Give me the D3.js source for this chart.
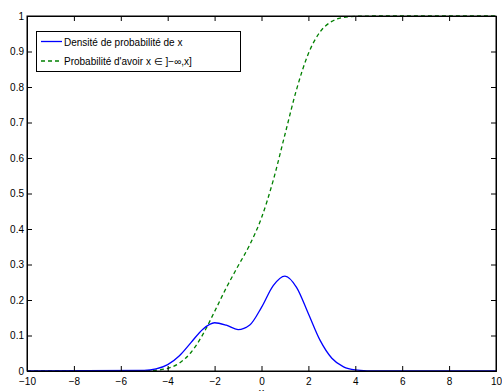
<!DOCTYPE html>
<html><head><meta charset="utf-8">
<script src="https://cdn.jsdelivr.net/npm/d3@7"></script>
<style>body{margin:0;background:#fff}svg{display:block}text{font-family:"Liberation Sans",Arial,sans-serif}</style>
</head><body>
<script>
const xValues   = [-10, -5, -4.5, -4, -3.5, -3, -2.5, -2, -1.5, -1, -0.5, 0, 0.5, 1, 1.5, 2, 2.5, 3, 3.5, 4, 4.5, 5, 5.5, 6, 10];
const density   = [0, 0.0015, 0.0058, 0.0180, 0.0432, 0.0807, 0.1179, 0.1359, 0.1290, 0.1167, 0.1295, 0.1793, 0.2406, 0.2674, 0.2350, 0.1614, 0.0863, 0.0360, 0.0117, 0.0030, 0.0006, 0.0001, 0, 0, 0];
const cumulative= [0, 0.00045, 0.0021, 0.0076, 0.0223, 0.0529, 0.1030, 0.1676, 0.2346, 0.2956, 0.3556, 0.4315, 0.5370, 0.6662, 0.7942, 0.8942, 0.9555, 0.9848, 0.9959, 0.9990, 0.9998, 1, 1, 1, 1];
const xTicks = [-10, -8, -6, -4, -2, 0, 2, 4, 6, 8, 10];
const yTicks = [0, 0.1, 0.2, 0.3, 0.4, 0.5, 0.6, 0.7, 0.8, 0.9, 1];
const legendLabels = ["Densité de probabilité de x", "Probabilité d'avoir x ∈  ]−∞,x]"];
const xLabel = "x";

const W = 502, H = 391;
const L = 27, R = 496, T = 16, B = 371;
const svg = d3.select("body").append("svg").attr("width", W).attr("height", H);
const x = d3.scaleLinear().domain([-10, 10]).range([L, R]);
const y = d3.scaleLinear().domain([0, 1]).range([B, T]);

const fmt = v => (v < 0 ? "\u2212" + Math.abs(v) : String(v));

svg.append("rect").attr("x", L).attr("y", T).attr("width", R - L).attr("height", B - T).attr("fill", "#fff");

const pts = (arr) => xValues.map((xv, i) => [xv, arr[i]]);
const line = d3.line().x(d => x(d[0])).y(d => y(d[1])).curve(d3.curveMonotoneX);
svg.append("path").attr("d", line(pts(cumulative))).attr("fill", "none")
  .attr("stroke", "#008000").attr("stroke-width", 1.3).attr("stroke-dasharray", "4,3");
svg.append("path").attr("d", line(pts(density))).attr("fill", "none")
  .attr("stroke", "#0000ff").attr("stroke-width", 1.3);

const tl = 5;
const gb = svg.append("g").attr("transform", `translate(0,${B})`)
  .call(d3.axisBottom(x).tickValues(xTicks).tickSize(-tl).tickPadding(8).tickFormat(fmt));
const gt = svg.append("g").attr("transform", `translate(0,${T})`)
  .call(d3.axisTop(x).tickValues(xTicks).tickSize(-tl).tickFormat(""));
const gl = svg.append("g").attr("transform", `translate(${L},0)`)
  .call(d3.axisLeft(y).tickValues(yTicks).tickSize(-tl).tickPadding(3).tickFormat(d => String(+d.toFixed(1))));
const gr = svg.append("g").attr("transform", `translate(${R},0)`)
  .call(d3.axisRight(y).tickValues(yTicks).tickSize(-tl).tickFormat(""));
[gb, gt, gl, gr].forEach(g => {
  g.select(".domain").attr("stroke", "#000").attr("stroke-width", 1);
  g.selectAll(".tick line").attr("stroke", "#000");
  g.selectAll("text").attr("font-size", 10).attr("fill", "#000").style("font-family", "Liberation Sans, Arial, sans-serif");
});
gb.selectAll(".tick text").attr("dy", "0.6em");
svg.append("rect").attr("x", L).attr("y", T).attr("width", R - L).attr("height", B - T)
  .attr("fill", "none").attr("stroke", "#000").attr("stroke-width", 1);

svg.append("text").attr("x", (L + R) / 2).attr("y", 396).attr("text-anchor", "middle")
  .attr("font-size", 11).text(xLabel);

const lg = svg.append("g");
lg.append("rect").attr("x", 36.5).attr("y", 31.5).attr("width", 204).attr("height", 40)
  .attr("fill", "#fff").attr("stroke", "#000").attr("stroke-width", 1);
lg.append("line").attr("x1", 41).attr("x2", 62).attr("y1", 41.5).attr("y2", 41.5)
  .attr("stroke", "#0000ff").attr("stroke-width", 1.3);
lg.append("line").attr("x1", 41).attr("x2", 62).attr("y1", 61).attr("y2", 61)
  .attr("stroke", "#008000").attr("stroke-width", 1.3).attr("stroke-dasharray", "4,3");
lg.append("text").attr("x", 64).attr("y", 45.5).attr("font-size", 10).text(legendLabels[0]);
lg.append("text").attr("x", 64).attr("y", 65).attr("font-size", 10).text(legendLabels[1]);
</script>
</body></html>
